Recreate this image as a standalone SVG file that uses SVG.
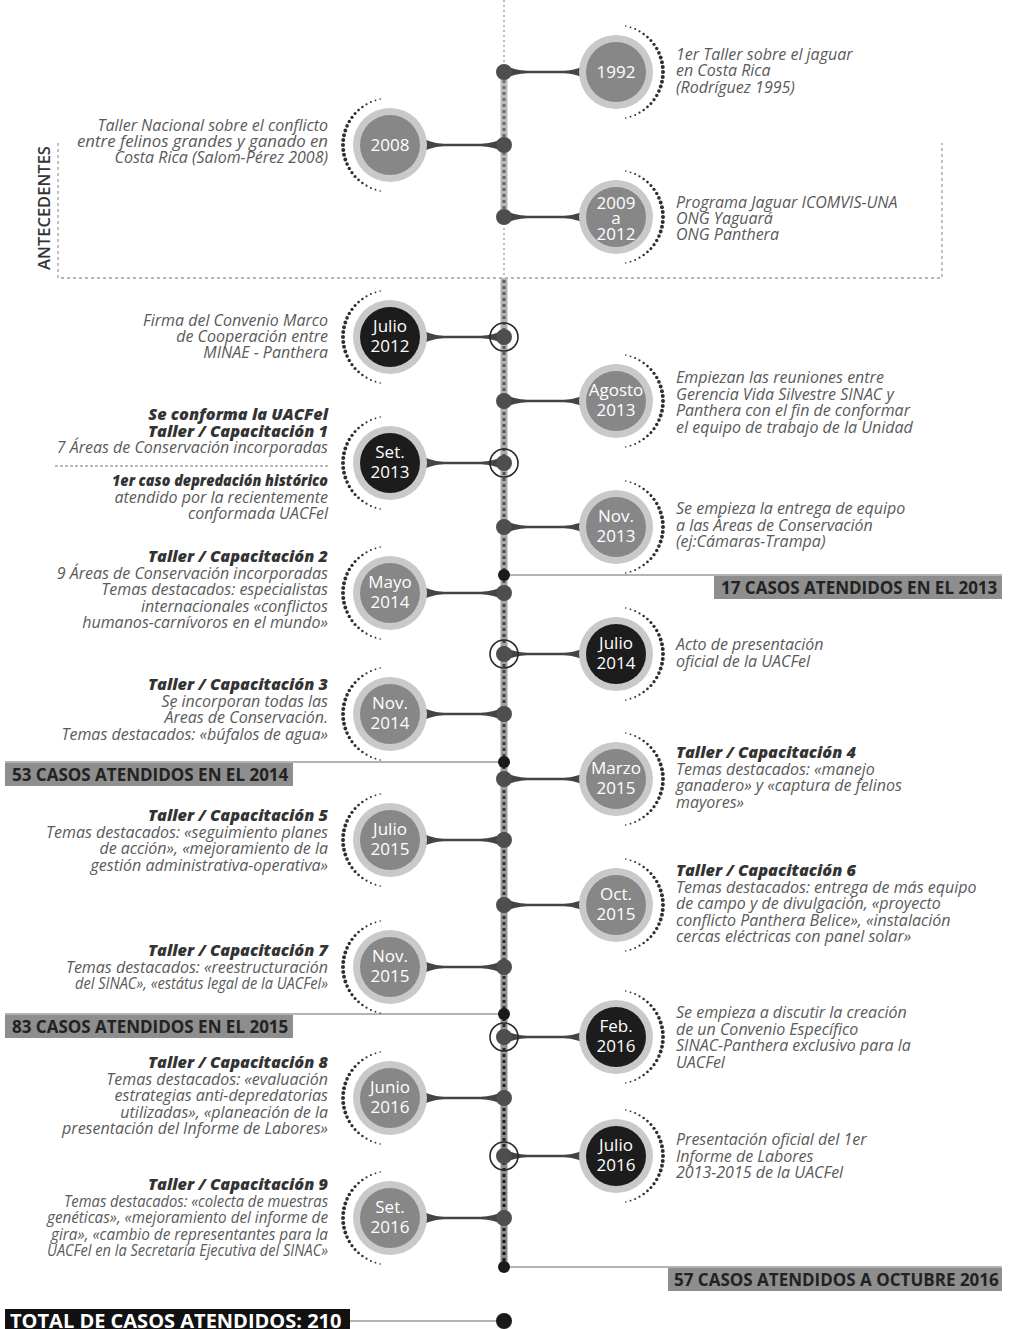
<svg xmlns="http://www.w3.org/2000/svg" xmlns:xlink="http://www.w3.org/1999/xlink" width="1009" height="1329" viewBox="0 0 1009 1329">
<style>
.desc{font-family:"Open Sans","Liberation Sans",sans-serif;font-style:italic;font-weight:400;font-size:16px;fill:#5a5a5a}
.b{font-weight:800;fill:#333;font-size:16.3px}
.end{text-anchor:end}
.date{font-family:"Open Sans","Liberation Sans",sans-serif;font-size:17px;fill:#fff;text-anchor:middle}
.ring{fill:#c9c9c9}
.cg{fill:#878787}
.cb{fill:#1c1c1c}
.jd{fill:#4e4e4e}
.bd{fill:#1a1a1a}
.jr{fill:none;stroke:#2a2a2a;stroke-width:1.6}
.con{fill:#444}
.bl{stroke:#9a9a9a;stroke-width:1.6;fill:none}
.banner{fill:#8e8e8e}
.bt{font-family:"Open Sans","Liberation Sans",sans-serif;font-weight:700;font-size:17px;fill:#222}
.thin{stroke:#9a9a9a;stroke-width:1.3;stroke-dasharray:2 3;fill:none}
.box{stroke:#a0a0a0;stroke-width:1.3;stroke-dasharray:3 3;fill:none}
.arc circle{fill:#2e2e2e}
</style>
<defs>
<linearGradient id="barG" gradientUnits="userSpaceOnUse" x1="0" y1="72" x2="0" y2="1267">
<stop offset="0" stop-color="#bcbcbc"/><stop offset="1" stop-color="#8a8a8a"/>
</linearGradient>
<linearGradient id="dashG" gradientUnits="userSpaceOnUse" x1="0" y1="72" x2="0" y2="1267">
<stop offset="0" stop-color="#707070"/><stop offset="1" stop-color="#151515"/>
</linearGradient>
<g id="arcR" class="arc">
<circle cx="47" cy="0" r="2"/>
<circle cx="46.74" cy="4.91" r="2"/><circle cx="46.74" cy="-4.91" r="2"/>
<circle cx="45.97" cy="9.77" r="1.95"/><circle cx="45.97" cy="-9.77" r="1.95"/>
<circle cx="44.70" cy="14.52" r="1.9"/><circle cx="44.70" cy="-14.52" r="1.9"/>
<circle cx="42.94" cy="19.12" r="1.8"/><circle cx="42.94" cy="-19.12" r="1.8"/>
<circle cx="40.70" cy="23.5" r="1.7"/><circle cx="40.70" cy="-23.5" r="1.7"/>
<circle cx="38.02" cy="27.63" r="1.6"/><circle cx="38.02" cy="-27.63" r="1.6"/>
<circle cx="34.93" cy="31.45" r="1.5"/><circle cx="34.93" cy="-31.45" r="1.5"/>
<circle cx="31.45" cy="34.93" r="1.35"/><circle cx="31.45" cy="-34.93" r="1.35"/>
<circle cx="27.63" cy="38.02" r="1.25"/><circle cx="27.63" cy="-38.02" r="1.25"/>
<circle cx="23.5" cy="40.70" r="1.1"/><circle cx="23.5" cy="-40.70" r="1.1"/>
<circle cx="19.12" cy="42.94" r="1"/><circle cx="19.12" cy="-42.94" r="1"/>
<circle cx="14.52" cy="44.70" r="0.9"/><circle cx="14.52" cy="-44.70" r="0.9"/>
<circle cx="9.77" cy="45.97" r="0.8"/><circle cx="9.77" cy="-45.97" r="0.8"/>
</g>
<g id="arcL"><use href="#arcR" transform="scale(-1,1)"/></g>
<path id="conR" class="con" d="M6,-4.5 C14,-1.6 20,-1.2 30,-1.2 L56,-1.2 C66,-1.2 72,-2.5 80,-6 L80,6 C72,2.5 66,1.2 56,1.2 L30,1.2 C20,1.2 14,1.6 6,4.5 Z"/>
<g id="conL"><use href="#conR" transform="scale(-1,1)"/></g>
</defs>

<rect width="1009" height="1329" fill="#fff"/>

<g id="antecedentes">
<path class="box" d="M58,143 L58,278 L942,278 L942,143"/>
<text x="50" y="208" transform="rotate(-90 50 208)" text-anchor="middle" font-family="Open Sans, Liberation Sans, sans-serif" font-weight="600" font-size="16.5" fill="#333">ANTECEDENTES</text>
</g>

<g id="timeline">
<line class="thin" x1="504" y1="0" x2="504" y2="72"/>
<line class="thin" x1="504" y1="218" x2="504" y2="278"/>
<rect x="500.5" y="72" width="7" height="146" fill="url(#barG)"/>
<line x1="504" y1="74" x2="504" y2="218" stroke="url(#dashG)" stroke-width="3" stroke-dasharray="3 3"/>
<rect x="500.5" y="278" width="7" height="989" fill="url(#barG)"/>
<line x1="504" y1="280" x2="504" y2="1267" stroke="url(#dashG)" stroke-width="3" stroke-dasharray="3 3"/>
</g>

<g id="connectors">
<use href="#conR" x="504" y="72"/>
<use href="#conL" x="504" y="145"/>
<use href="#conR" x="504" y="217"/>
<use href="#conL" x="504" y="337"/>
<use href="#conR" x="504" y="401"/>
<use href="#conL" x="504" y="463"/>
<use href="#conR" x="504" y="527"/>
<use href="#conL" x="504" y="593"/>
<use href="#conR" x="504" y="654"/>
<use href="#conL" x="504" y="714"/>
<use href="#conR" x="504" y="779"/>
<use href="#conL" x="504" y="840"/>
<use href="#conR" x="504" y="905"/>
<use href="#conL" x="504" y="967"/>
<use href="#conR" x="504" y="1037"/>
<use href="#conL" x="504" y="1098"/>
<use href="#conR" x="504" y="1156"/>
<use href="#conL" x="504" y="1218"/>
<circle class="jd" cx="504" cy="72" r="8"/>
<circle class="jd" cx="504" cy="145" r="8"/>
<circle class="jd" cx="504" cy="217" r="8"/>
<circle class="jd" cx="504" cy="337" r="8"/><circle class="jr" cx="504" cy="337" r="14"/>
<circle class="jd" cx="504" cy="401" r="8"/>
<circle class="jd" cx="504" cy="463" r="8"/><circle class="jr" cx="504" cy="463" r="14"/>
<circle class="jd" cx="504" cy="527" r="8"/>
<circle class="jd" cx="504" cy="593" r="8"/>
<circle class="jd" cx="504" cy="654" r="8"/><circle class="jr" cx="504" cy="654" r="14"/>
<circle class="jd" cx="504" cy="714" r="8"/>
<circle class="jd" cx="504" cy="779" r="8"/>
<circle class="jd" cx="504" cy="840" r="8"/>
<circle class="jd" cx="504" cy="905" r="8"/>
<circle class="jd" cx="504" cy="967" r="8"/>
<circle class="jd" cx="504" cy="1037" r="8"/><circle class="jr" cx="504" cy="1037" r="14"/>
<circle class="jd" cx="504" cy="1098" r="8"/>
<circle class="jd" cx="504" cy="1156" r="8"/><circle class="jr" cx="504" cy="1156" r="14"/>
<circle class="jd" cx="504" cy="1218" r="8"/>
<line class="bl" x1="504" y1="575" x2="1002" y2="575"/>
<line class="bl" x1="5" y1="762" x2="504" y2="762"/>
<line class="bl" x1="5" y1="1014" x2="504" y2="1014"/>
<line class="bl" x1="504" y1="1267" x2="1002" y2="1267"/>
<line class="bl" x1="350" y1="1321" x2="504" y2="1321"/>
<circle class="bd" cx="504" cy="575" r="6"/>
<circle class="bd" cx="504" cy="762" r="6"/>
<circle class="bd" cx="504" cy="1014" r="6"/>
<circle class="bd" cx="504" cy="1267" r="6"/>
<circle class="bd" cx="504" cy="1321" r="8"/>
</g>

<g id="n1992">
<use href="#arcR" x="616" y="72"/>
<circle class="ring" cx="616" cy="72" r="37"/><circle class="cg" cx="616" cy="72" r="30"/>
<text class="date" x="616" y="78">1992</text>
<text class="desc" x="676" y="59.5">1er Taller sobre el jaguar<tspan x="676" dy="16.5">en Costa Rica</tspan><tspan x="676" dy="16.5">(Rodríguez 1995)</tspan></text>
</g>
<g id="n2008">
<use href="#arcL" x="390" y="145"/>
<circle class="ring" cx="390" cy="145" r="37"/><circle class="cg" cx="390" cy="145" r="30"/>
<text class="date" x="390" y="151">2008</text>
<text class="desc end" x="328" y="131">Taller Nacional sobre el conflicto</text>
<text class="desc end" x="328" y="147" textLength="251" lengthAdjust="spacingAndGlyphs">entre felinos grandes y ganado en</text>
<text class="desc end" x="328" y="163">Costa Rica (Salom-Pérez 2008)</text>
</g>
<g id="n2009">
<use href="#arcR" x="616" y="217"/>
<circle class="ring" cx="616" cy="217" r="37"/><circle class="cg" cx="616" cy="217" r="30"/>
<text class="date" x="616" y="208.5">2009<tspan x="616" dy="15">a</tspan><tspan x="616" dy="16">2012</tspan></text>
<text class="desc" x="676" y="208">Programa Jaguar ICOMVIS-UNA<tspan x="676" dy="16">ONG Yaguará</tspan><tspan x="676" dy="16">ONG Panthera</tspan></text>
</g>
<g id="nJul2012">
<use href="#arcL" x="390" y="337"/>
<circle class="ring" cx="390" cy="337" r="37"/><circle class="cb" cx="390" cy="337" r="30"/>
<text class="date" x="390" y="332">Julio<tspan x="390" dy="20">2012</tspan></text>
<text class="desc end" x="328" y="326">Firma del Convenio Marco<tspan x="328" dy="16">de Cooperación entre</tspan><tspan x="328" dy="16">MINAE - Panthera</tspan></text>
</g>
<g id="nAgo2013">
<use href="#arcR" x="616" y="401"/>
<circle class="ring" cx="616" cy="401" r="37"/><circle class="cg" cx="616" cy="401" r="30"/>
<text class="date" x="616" y="396">Agosto<tspan x="616" dy="20">2013</tspan></text>
<text class="desc" x="676" y="383">Empiezan las reuniones entre<tspan x="676" dy="16.5">Gerencia Vida Silvestre SINAC y</tspan><tspan x="676" dy="16.5">Panthera con el fin de conformar</tspan><tspan x="676" dy="16.5">el equipo de trabajo de la Unidad</tspan></text>
</g>
<g id="nSet2013">
<use href="#arcL" x="390" y="463"/>
<circle class="ring" cx="390" cy="463" r="37"/><circle class="cb" cx="390" cy="463" r="30"/>
<text class="date" x="390" y="458">Set.<tspan x="390" dy="20">2013</tspan></text>
<text class="desc end" x="328" y="420"><tspan class="b">Se conforma la UACFel</tspan><tspan class="b" x="328" dy="16.5">Taller / Capacitación 1</tspan><tspan x="328" dy="16.5">7 Áreas de Conservación incorporadas</tspan></text>
<line x1="55" y1="466" x2="328" y2="466" stroke="#777" stroke-width="1.2" stroke-dasharray="3 2"/>
<text class="desc end b" x="328" y="486" textLength="216" lengthAdjust="spacingAndGlyphs">1er caso depredación histórico</text>
<text class="desc end" x="328" y="502.5">atendido por la recientemente<tspan x="328" dy="16.5">conformada UACFel</tspan></text>
</g>
<g id="nNov2013">
<use href="#arcR" x="616" y="527"/>
<circle class="ring" cx="616" cy="527" r="37"/><circle class="cg" cx="616" cy="527" r="30"/>
<text class="date" x="616" y="522">Nov.<tspan x="616" dy="20">2013</tspan></text>
<text class="desc" x="676" y="514">Se empieza la entrega de equipo<tspan x="676" dy="16.5">a las Áreas de Conservación</tspan><tspan x="676" dy="16.5">(ej:Cámaras-Trampa)</tspan></text>
</g>
<g id="nMay2014">
<use href="#arcL" x="390" y="593"/>
<circle class="ring" cx="390" cy="593" r="37"/><circle class="cg" cx="390" cy="593" r="30"/>
<text class="date" x="390" y="588">Mayo<tspan x="390" dy="20">2014</tspan></text>
<text class="desc end" x="328" y="562"><tspan class="b">Taller / Capacitación 2</tspan><tspan x="328" dy="16.5">9 Áreas de Conservación incorporadas</tspan><tspan x="328" dy="16.5">Temas destacados: especialistas</tspan><tspan x="328" dy="16.5">internacionales «conflictos</tspan><tspan x="328" dy="16.5">humanos-carnívoros en el mundo»</tspan></text>
</g>
<g id="nJul2014">
<use href="#arcR" x="616" y="654"/>
<circle class="ring" cx="616" cy="654" r="37"/><circle class="cb" cx="616" cy="654" r="30"/>
<text class="date" x="616" y="649">Julio<tspan x="616" dy="20">2014</tspan></text>
<text class="desc" x="676" y="650">Acto de presentación<tspan x="676" dy="16.5">oficial de la UACFel</tspan></text>
</g>
<g id="nNov2014">
<use href="#arcL" x="390" y="714"/>
<circle class="ring" cx="390" cy="714" r="37"/><circle class="cg" cx="390" cy="714" r="30"/>
<text class="date" x="390" y="709">Nov.<tspan x="390" dy="20">2014</tspan></text>
<text class="desc end" x="328" y="690"><tspan class="b">Taller / Capacitación 3</tspan><tspan x="328" dy="16.5">Se incorporan todas las</tspan><tspan x="328" dy="16.5">Áreas de Conservación.</tspan><tspan x="328" dy="16.5">Temas destacados: «búfalos de agua»</tspan></text>
</g>
<g id="nMar2015">
<use href="#arcR" x="616" y="779"/>
<circle class="ring" cx="616" cy="779" r="37"/><circle class="cg" cx="616" cy="779" r="30"/>
<text class="date" x="616" y="774">Marzo<tspan x="616" dy="20">2015</tspan></text>
<text class="desc" x="676" y="758"><tspan class="b">Taller / Capacitación 4</tspan><tspan x="676" dy="16.5">Temas destacados: «manejo</tspan><tspan x="676" dy="16.5">ganadero» y «captura de felinos</tspan><tspan x="676" dy="16.5">mayores»</tspan></text>
</g>
<g id="nJul2015">
<use href="#arcL" x="390" y="840"/>
<circle class="ring" cx="390" cy="840" r="37"/><circle class="cg" cx="390" cy="840" r="30"/>
<text class="date" x="390" y="835">Julio<tspan x="390" dy="20">2015</tspan></text>
<text class="desc end" x="328" y="821"><tspan class="b">Taller / Capacitación 5</tspan><tspan x="328" dy="16.5">Temas destacados: «seguimiento planes</tspan><tspan x="328" dy="16.5">de acción», «mejoramiento de la</tspan><tspan x="328" dy="16.5">gestión administrativa-operativa»</tspan></text>
</g>
<g id="nOct2015">
<use href="#arcR" x="616" y="905"/>
<circle class="ring" cx="616" cy="905" r="37"/><circle class="cg" cx="616" cy="905" r="30"/>
<text class="date" x="616" y="900">Oct.<tspan x="616" dy="20">2015</tspan></text>
<text class="desc" x="676" y="876"><tspan class="b">Taller / Capacitación 6</tspan><tspan x="676" dy="16.5">Temas destacados: entrega de más equipo</tspan><tspan x="676" dy="16.5">de campo y de divulgación, «proyecto</tspan><tspan x="676" dy="16.5">conflicto Panthera Belice», «instalación</tspan><tspan x="676" dy="16.5">cercas eléctricas con panel solar»</tspan></text>
</g>
<g id="nNov2015">
<use href="#arcL" x="390" y="967"/>
<circle class="ring" cx="390" cy="967" r="37"/><circle class="cg" cx="390" cy="967" r="30"/>
<text class="date" x="390" y="962">Nov.<tspan x="390" dy="20">2015</tspan></text>
<text class="desc end" x="328" y="956"><tspan class="b">Taller / Capacitación 7</tspan><tspan x="328" dy="16.5">Temas destacados: «reestructuración</tspan></text>
<text class="desc end" x="328" y="989" textLength="253" lengthAdjust="spacingAndGlyphs">del SINAC», «estátus legal de la UACFel»</text>
</g>
<g id="nFeb2016">
<use href="#arcR" x="616" y="1037"/>
<circle class="ring" cx="616" cy="1037" r="37"/><circle class="cb" cx="616" cy="1037" r="30"/>
<text class="date" x="616" y="1032">Feb.<tspan x="616" dy="20">2016</tspan></text>
<text class="desc" x="676" y="1018">Se empieza a discutir la creación<tspan x="676" dy="16.5">de un Convenio Específico</tspan><tspan x="676" dy="16.5">SINAC-Panthera exclusivo para la</tspan><tspan x="676" dy="16.5">UACFel</tspan></text>
</g>
<g id="nJun2016">
<use href="#arcL" x="390" y="1098"/>
<circle class="ring" cx="390" cy="1098" r="37"/><circle class="cg" cx="390" cy="1098" r="30"/>
<text class="date" x="390" y="1093">Junio<tspan x="390" dy="20">2016</tspan></text>
<text class="desc end" x="328" y="1068"><tspan class="b">Taller / Capacitación 8</tspan><tspan x="328" dy="16.5">Temas destacados: «evaluación</tspan><tspan x="328" dy="16.5">estrategias anti-depredatorias</tspan><tspan x="328" dy="16.5">utilizadas», «planeación de la</tspan><tspan x="328" dy="16.5">presentación del Informe de Labores»</tspan></text>
</g>
<g id="nJul2016">
<use href="#arcR" x="616" y="1156"/>
<circle class="ring" cx="616" cy="1156" r="37"/><circle class="cb" cx="616" cy="1156" r="30"/>
<text class="date" x="616" y="1151">Julio<tspan x="616" dy="20">2016</tspan></text>
<text class="desc" x="676" y="1145">Presentación oficial del 1er<tspan x="676" dy="16.5">Informe de Labores</tspan><tspan x="676" dy="16.5">2013-2015 de la UACFel</tspan></text>
</g>
<g id="nSet2016">
<use href="#arcL" x="390" y="1218"/>
<circle class="ring" cx="390" cy="1218" r="37"/><circle class="cg" cx="390" cy="1218" r="30"/>
<text class="date" x="390" y="1213">Set.<tspan x="390" dy="20">2016</tspan></text>
<text class="desc end b" x="328" y="1190">Taller / Capacitación 9</text>
<text class="desc end" x="328" y="1206.5" textLength="264" lengthAdjust="spacingAndGlyphs">Temas destacados: «colecta de muestras</text>
<text class="desc end" x="328" y="1223" textLength="281" lengthAdjust="spacingAndGlyphs">genéticas», «mejoramiento del informe de</text>
<text class="desc end" x="328" y="1239.5" textLength="277" lengthAdjust="spacingAndGlyphs">gira», «cambio de representantes para la</text>
<text class="desc end" x="328" y="1256" textLength="281" lengthAdjust="spacingAndGlyphs">UACFel en la Secretaría Ejecutiva del SINAC»</text>
</g>

<g id="b2013"><rect class="banner" x="714" y="576" width="288" height="23"/><text class="bt" x="721" y="594">17 CASOS ATENDIDOS EN EL 2013</text></g>
<g id="b2014"><rect class="banner" x="5" y="763" width="288" height="23"/><text class="bt" x="12" y="781">53 CASOS ATENDIDOS EN EL 2014</text></g>
<g id="b2015"><rect class="banner" x="5" y="1015" width="288" height="23"/><text class="bt" x="12" y="1033">83 CASOS ATENDIDOS EN EL 2015</text></g>
<g id="b2016"><rect class="banner" x="668" y="1268" width="334" height="23"/><text class="bt" x="674" y="1286">57 CASOS ATENDIDOS A OCTUBRE 2016</text></g>
<g id="total"><rect x="5" y="1309" width="345" height="25" fill="#111"/><text class="bt" x="10" y="1328" style="font-size:20px;fill:#fff">TOTAL DE CASOS ATENDIDOS: 210</text></g>
</svg>
